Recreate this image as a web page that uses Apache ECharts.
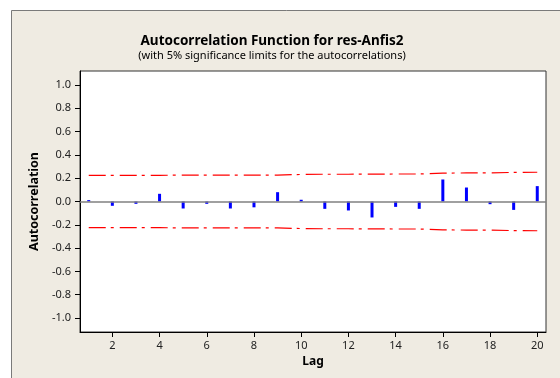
<!DOCTYPE html>
<html>
<head>
<meta charset="utf-8">
<script src="https://cdn.jsdelivr.net/npm/echarts@6/dist/echarts.min.js"></script>
<style>
  html, body { margin: 0; padding: 0; background: #fff; }
  #acf { width: 560px; height: 378px; }
</style>
</head>
<body>
<div id="acf"></div>
<script>
// lags and autocorrelation values
var lags = [1, 2, 3, 4, 5, 6, 7, 8, 9, 10, 11, 12, 13, 14, 15, 16, 17, 18, 19, 20];
var acf = [0.012, -0.037, -0.02, 0.066, -0.06, -0.02, -0.06, -0.05, 0.08, 0.015,
           -0.063, -0.077, -0.137, -0.046, -0.063, 0.189, 0.12, -0.023, -0.072, 0.132];
// 5% significance limits
var upperLimit = [0.225, 0.225, 0.225, 0.225, 0.226, 0.226, 0.226, 0.227, 0.227, 0.232,
                  0.234, 0.234, 0.235, 0.236, 0.236, 0.244, 0.245, 0.245, 0.250, 0.251];
var lowerLimit = [-0.225, -0.225, -0.225, -0.225, -0.226, -0.226, -0.226, -0.227, -0.227, -0.232,
                  -0.234, -0.234, -0.235, -0.236, -0.236, -0.244, -0.245, -0.245, -0.250, -0.251];
var xTicks = [2, 4, 6, 8, 10, 12, 14, 16, 18, 20];
var yTicks = [-1.0, -0.8, -0.6, -0.4, -0.2, 0.0, 0.2, 0.4, 0.6, 0.8, 1.0];

function pairs(ys) {
    var out = [];
    for (var i = 0; i < lags.length; i++) {
        out.push([lags[i], ys[i]]);
    }
    return out;
}

var chart = echarts.init(document.getElementById('acf'));
var font = 'Noto Sans';
var limitDash = [17, 5, 3, 6];

var option = {
    backgroundColor: '#fff',
    animation: false,
    graphic: [{
        type: 'rect',
        z: -10,
        shape: { x: 11.5, y: 10.5, width: 600, height: 400 },
        style: { fill: '#EFEBE2', stroke: '#7a7a7a', lineWidth: 1 }
    }],
    title: {
        text: 'Autocorrelation Function for res-Anfis2',
        subtext: '(with 5% significance limits for the autocorrelations)',
        left: 267,
        textAlign: 'center',
        top: 29,
        itemGap: 2,
        textStyle: { fontFamily: font, fontSize: 13.5, fontWeight: 'bold', color: '#000' },
        subtextStyle: { fontFamily: font, fontSize: 11, color: '#000' }
    },
    grid: {
        left: 80, top: 71, right: 14, bottom: 46,
        show: true,
        backgroundColor: '#fff',
        borderColor: '#333',
        borderWidth: 1
    },
    xAxis: {
        type: 'value',
        min: 0.63,
        max: 20.37,
        name: 'Lag',
        nameLocation: 'middle',
        nameGap: 23,
        nameTextStyle: { fontFamily: font, fontSize: 12, fontWeight: 'bold', color: '#000' },
        splitLine: { show: false },
        axisLine: { show: true, onZero: false, lineStyle: { color: '#000' } },
        axisTick: { show: true, length: 5, customValues: xTicks, lineStyle: { color: '#000' } },
        axisLabel: {
            customValues: xTicks,
            margin: 8,
            fontFamily: font, fontSize: 11, color: '#222'
        }
    },
    yAxis: {
        type: 'value',
        min: -1.12,
        max: 1.12,
        name: 'Autocorrelation',
        nameLocation: 'middle',
        nameGap: 37,
        nameTextStyle: { fontFamily: font, fontSize: 12.5, fontWeight: 'bold', color: '#000' },
        splitLine: { show: false },
        axisLine: { show: true, onZero: false, lineStyle: { color: '#000' } },
        axisTick: { show: true, length: 5, customValues: yTicks, lineStyle: { color: '#000' } },
        axisLabel: {
            customValues: yTicks,
            margin: 9,
            fontFamily: font, fontSize: 11, color: '#222',
            formatter: function (v) { return v.toFixed(1); }
        }
    },
    series: [
        {
            name: 'ACF',
            type: 'bar',
            barWidth: 3,
            itemStyle: { color: '#0000FF' },
            data: pairs(acf),
            markLine: {
                silent: true,
                symbol: 'none',
                label: { show: false },
                lineStyle: { color: '#808080', type: 'solid', width: 1.5 },
                data: [{ yAxis: 0 }]
            }
        },
        {
            name: 'Upper',
            type: 'line',
            symbol: 'none',
            lineStyle: { color: '#FF0000', width: 1.2, type: limitDash },
            data: pairs(upperLimit)
        },
        {
            name: 'Lower',
            type: 'line',
            symbol: 'none',
            lineStyle: { color: '#FF0000', width: 1.2, type: limitDash },
            data: pairs(lowerLimit)
        }
    ]
};

chart.setOption(option);
</script>
</body>
</html>
